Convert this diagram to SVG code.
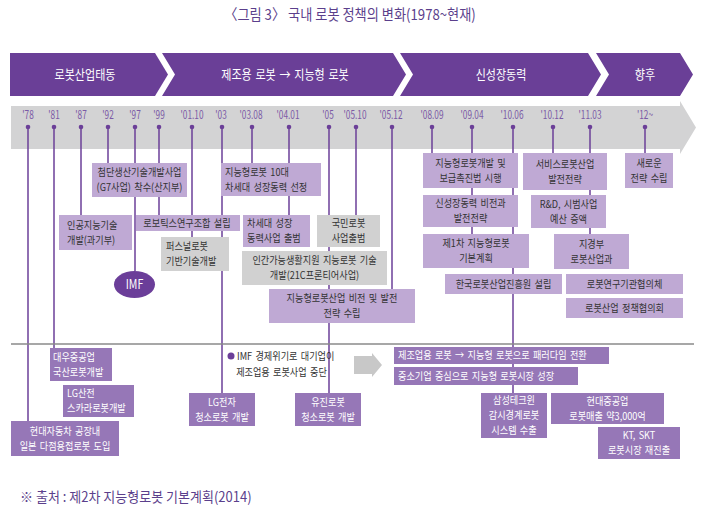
<svg xmlns="http://www.w3.org/2000/svg" width="703" height="514" viewBox="0 0 703 514">
<style>
.bn{fill:#6a3f97}
.lp{fill:#bfa9d4}
.gr{fill:#d1d1d1}
.dp{fill:#9677b7}
.ln{stroke:#6b3f98;stroke-width:1.5;fill:none}
.t{font-family:"Noto Sans CJK KR","Noto Sans",sans-serif;font-size:10.5px;word-spacing:1.5px;fill:#333;text-anchor:middle}
.tw{fill:#fff}
.tl{text-anchor:start}
.yr{fill:#7b5aa6;font-size:11.5px;word-spacing:0}
.dot{fill:#6b3f98}
</style>
<rect width="703" height="514" fill="#fff"/>
<text class="t" transform="translate(350 0) scale(.88 1)" y="20" style="font-size:15px;word-spacing:0;fill:#5b3f8c">〈그림 3〉 국내 로봇 정책의 변화(1978~현재)</text>

<g id="banner">
<polygon class="bn" points="10,53 155,53 168,74.5 155,96 10,96"/>
<polygon class="bn" points="162,53 393,53 406,74.5 393,96 162,96 175,74.5"/>
<polygon class="bn" points="400,53 588,53 601,74.5 588,96 400,96 413,74.5"/>
<polygon class="bn" points="596,53 680,53 693,74.5 680,96 596,96 609,74.5"/>
<text class="t tw" transform="translate(85 0) scale(.85 1)" y="79.5" style="font-size:13px">로봇산업태동</text>
<text class="t tw" transform="translate(285 0) scale(.85 1)" y="79.5" style="font-size:13px">제조용 로봇 → 지능형 로봇</text>
<text class="t tw" transform="translate(501 0) scale(.85 1)" y="79.5" style="font-size:13px">신성장동력</text>
<text class="t tw" transform="translate(645 0) scale(.85 1)" y="79.5" style="font-size:13px">향후</text>
</g>

<g id="timeline">
<polygon points="11,106 680,106 680,101 696,127.5 680,154 680,149 11,149" fill="#d3d3d4"/>
<g class="t yr">
<text transform="translate(28 0) scale(.72 1)" y="119">'78</text>
<text transform="translate(54 0) scale(.72 1)" y="119">'81</text>
<text transform="translate(81 0) scale(.72 1)" y="119">'87</text>
<text transform="translate(108 0) scale(.72 1)" y="119">'92</text>
<text transform="translate(135 0) scale(.72 1)" y="119">'97</text>
<text transform="translate(159 0) scale(.72 1)" y="119">'99</text>
<text transform="translate(192 0) scale(.72 1)" y="119">'01.10</text>
<text transform="translate(221 0) scale(.72 1)" y="119">'03</text>
<text transform="translate(251 0) scale(.72 1)" y="119">'03.08</text>
<text transform="translate(288 0) scale(.72 1)" y="119">'04.01</text>
<text transform="translate(328 0) scale(.72 1)" y="119">'05</text>
<text transform="translate(355 0) scale(.72 1)" y="119">'05.10</text>
<text transform="translate(391 0) scale(.72 1)" y="119">'05.12</text>
<text transform="translate(432 0) scale(.72 1)" y="119">'08.09</text>
<text transform="translate(472 0) scale(.72 1)" y="119">'09.04</text>
<text transform="translate(512 0) scale(.72 1)" y="119">'10.06</text>
<text transform="translate(552 0) scale(.72 1)" y="119">'10.12</text>
<text transform="translate(590 0) scale(.72 1)" y="119">'11.03</text>
<text transform="translate(645 0) scale(.72 1)" y="119">'12~</text>
</g>
</g>

<g id="connectors" class="ln">
<line x1="28" y1="127" x2="28" y2="421"/>
<line x1="54" y1="127" x2="54" y2="348"/>
<line x1="81" y1="127" x2="81" y2="215"/>
<line x1="108" y1="127" x2="108" y2="163"/>
<line x1="135" y1="127" x2="135" y2="271"/>
<line x1="159" y1="127" x2="159" y2="215"/>
<line x1="192" y1="127" x2="192" y2="237"/>
<line x1="222" y1="127" x2="222" y2="393"/>
<line x1="252" y1="127" x2="252" y2="163"/>
<line x1="289" y1="127" x2="289" y2="215"/>
<line x1="329" y1="127" x2="329" y2="393"/>
<line x1="356" y1="127" x2="356" y2="215"/>
<line x1="392" y1="127" x2="392" y2="289"/>
<line x1="432" y1="127" x2="432" y2="153"/>
<line x1="472" y1="127" x2="472" y2="234"/>
<line x1="513" y1="127" x2="513" y2="393"/>
<line x1="553" y1="127" x2="553" y2="153"/>
<line x1="590" y1="127" x2="590" y2="234"/>
<line x1="645" y1="127" x2="645" y2="153"/>
</g>
<g id="dots" class="dot">
<circle cx="28" cy="127" r="2.3"/><circle cx="54" cy="127" r="2.3"/><circle cx="81" cy="127" r="2.3"/><circle cx="108" cy="127" r="2.3"/><circle cx="135" cy="127" r="2.3"/><circle cx="159" cy="127" r="2.3"/><circle cx="192" cy="127" r="2.3"/><circle cx="222" cy="127" r="2.3"/><circle cx="252" cy="127" r="2.3"/><circle cx="289" cy="127" r="2.3"/><circle cx="329" cy="127" r="2.3"/><circle cx="356" cy="127" r="2.3"/><circle cx="392" cy="127" r="2.3"/><circle cx="432" cy="127" r="2.3"/><circle cx="472" cy="127" r="2.3"/><circle cx="513" cy="127" r="2.3"/><circle cx="553" cy="127" r="2.3"/><circle cx="590" cy="127" r="2.3"/><circle cx="645" cy="127" r="2.3"/>
</g>

<line id="divider" x1="11" y1="344" x2="694" y2="344" stroke="#8a8a8a" stroke-width="1.5"/>

<g id="n-g7"><rect class="lp" x="92" y="163" width="95" height="34"/>
<text class="t" transform="translate(139.5 0) scale(.87 1)"><tspan x="0" y="176.2">첨단생산기술개발사업</tspan><tspan x="0" y="191.4">(G7사업) 착수(산지부)</tspan></text></g>
<g id="n-10"><rect class="lp" x="221" y="163" width="100" height="33"/>
<text class="t tl" transform="translate(225 0) scale(.87 1)"><tspan x="0" y="175.7">지능형로봇 10대</tspan><tspan x="0" y="190.9">차세대 성장동력 선정</tspan></text></g>
<g id="n-ai"><rect class="lp" x="59" y="215" width="73" height="35"/>
<text class="t tl" transform="translate(67 0) scale(.87 1)"><tspan x="0" y="228.7">인공지능기술</tspan><tspan x="0" y="243.9">개발(과기부)</tspan></text></g>
<g id="n-robotics"><rect class="lp" x="136" y="215" width="104" height="16"/>
<text class="t" transform="translate(187 0) scale(.87 1)" y="226.8">로보틱스연구조합 설립</text></g>
<g id="n-personal"><rect class="gr" x="161" y="237" width="68" height="34"/>
<text class="t tl" transform="translate(166 0) scale(.87 1)"><tspan x="0" y="250.2">퍼스널로봇</tspan><tspan x="0" y="265.4">기반기술개발</tspan></text></g>
<g id="n-next"><rect class="lp" x="243" y="215" width="67" height="32"/>
<text class="t tl" transform="translate(247 0) scale(.87 1)"><tspan x="0" y="227.2">차세대 성장</tspan><tspan x="0" y="242.4">동력사업 출범</tspan></text></g>
<g id="n-national"><rect class="gr" x="317" y="215" width="63" height="32"/>
<text class="t" transform="translate(348.5 0) scale(.87 1)"><tspan x="0" y="227.2">국민로봇</tspan><tspan x="0" y="242.4">사업출범</tspan></text></g>
<g id="n-frontier"><rect class="gr" x="242" y="251" width="145" height="34"/>
<text class="t" transform="translate(314.5 0) scale(.87 1)"><tspan x="0" y="264.2">인간가능생활지원 지능로봇 기술</tspan><tspan x="0" y="279.4">개발(21C프론티어사업)</tspan></text></g>
<g id="n-vision"><rect class="lp" x="269" y="289" width="146" height="34"/>
<text class="t" transform="translate(342 0) scale(.87 1)"><tspan x="0" y="302.2">지능형로봇산업 비전 및 발전</tspan><tspan x="0" y="317.4">전략 수립</tspan></text></g>
<g id="n-imf"><ellipse cx="134.5" cy="284.5" rx="20.5" ry="13.5" fill="#6b3e99"/>
<text class="t tw" transform="translate(134.5 0) scale(.85 1)" y="289" style="font-size:12.5px">IMF</text></g>

<g id="n-law"><rect class="lp" x="423" y="153" width="95" height="35"/>
<text class="t" transform="translate(470.5 0) scale(.87 1)"><tspan x="0" y="166.7">지능형로봇개발 및</tspan><tspan x="0" y="181.9">보급촉진법 시행</tspan></text></g>
<g id="n-growth"><rect class="lp" x="423" y="195" width="95" height="32"/>
<text class="t" transform="translate(470.5 0) scale(.87 1)"><tspan x="0" y="207.2">신성장동력 비전과</tspan><tspan x="0" y="222.4">발전전략</tspan></text></g>
<g id="n-plan1"><rect class="lp" x="423" y="234" width="106" height="34"/>
<text class="t" transform="translate(476 0) scale(.87 1)"><tspan x="0" y="247.2">제1차 지능형로봇</tspan><tspan x="0" y="262.4">기본계획</tspan></text></g>
<g id="n-kiria"><rect class="lp" x="445" y="274" width="117" height="20"/>
<text class="t" transform="translate(503.5 0) scale(.87 1)" y="287.8">한국로봇산업진흥원 설립</text></g>
<g id="n-service"><rect class="lp" x="523" y="153" width="84" height="37"/>
<text class="t" transform="translate(565 0) scale(.87 1)"><tspan x="0" y="167.7">서비스로봇산업</tspan><tspan x="0" y="182.9">발전전략</tspan></text></g>
<g id="n-new"><rect class="lp" x="625" y="153" width="48" height="35"/>
<text class="t" transform="translate(649 0) scale(.87 1)"><tspan x="0" y="166.7">새로운</tspan><tspan x="0" y="181.9">전략 수립</tspan></text></g>
<g id="n-rnd"><rect class="lp" x="531" y="195" width="75" height="33"/>
<text class="t" transform="translate(568.5 0) scale(.87 1)"><tspan x="0" y="207.7">R&amp;D, 시범사업</tspan><tspan x="0" y="222.9">예산 증액</tspan></text></g>
<g id="n-mke"><rect class="lp" x="554" y="234" width="75" height="35"/>
<text class="t" transform="translate(591.5 0) scale(.87 1)"><tspan x="0" y="247.7">지경부</tspan><tspan x="0" y="262.9">로봇산업과</tspan></text></g>
<g id="n-council1"><rect class="lp" x="566" y="274" width="117" height="20"/>
<text class="t" transform="translate(624.5 0) scale(.87 1)" y="287.8">로봇연구기관협의체</text></g>
<g id="n-council2"><rect class="lp" x="566" y="298" width="117" height="20"/>
<text class="t" transform="translate(624.5 0) scale(.87 1)" y="311.8">로봇산업 정책협의회</text></g>

<g id="n-daewoo"><rect class="dp" x="50" y="348" width="62" height="33"/>
<text class="t tw tl" transform="translate(53 0) scale(.87 1)"><tspan x="0" y="360.7">대우중공업</tspan><tspan x="0" y="375.9">국산로봇개발</tspan></text></g>
<g id="n-lgis"><rect class="dp" x="63" y="385" width="71" height="32"/>
<text class="t tw tl" transform="translate(67 0) scale(.87 1)"><tspan x="0" y="397.2">LG산전</tspan><tspan x="0" y="412.4">스카라로봇개발</tspan></text></g>
<g id="n-hyundai"><rect class="dp" x="11" y="421" width="108" height="35"/>
<text class="t tw" transform="translate(65 0) scale(.87 1)"><tspan x="0" y="434.7">현대자동차 공장내</tspan><tspan x="0" y="449.9">일본 다점용접로봇 도입</tspan></text></g>
<g id="n-lge"><rect class="dp" x="189" y="393" width="66" height="33"/>
<text class="t tw" transform="translate(222 0) scale(.87 1)"><tspan x="0" y="405.7">LG전자</tspan><tspan x="0" y="420.9">청소로봇 개발</tspan></text></g>
<g id="n-yujin"><rect class="dp" x="295" y="393" width="66" height="33"/>
<text class="t tw" transform="translate(328 0) scale(.87 1)"><tspan x="0" y="405.7">유진로봇</tspan><tspan x="0" y="420.9">청소로봇 개발</tspan></text></g>
<g id="n-imfnote"><circle cx="231" cy="356" r="3.5" fill="#6b3f98"/>
<text class="t tl" transform="translate(237 0) scale(.87 1)"><tspan x="0" y="359.8">IMF 경제위기로 대기업이</tspan><tspan x="-1" y="375.8">제조업용 로봇사업 중단</tspan></text></g>
<polygon id="n-arrow" points="354,356 372,356 372,353 382,365 372,377 372,374 354,374" fill="#c8c8c8"/>
<g id="n-paradigm"><rect class="dp" x="394" y="347" width="215" height="17"/>
<text class="t tw tl" transform="translate(398 0) scale(.87 1)" y="359.3">제조업용 로봇 → 지능형 로봇으로 패러다임 전환</text></g>
<g id="n-sme"><rect class="dp" x="394" y="367" width="184" height="18"/>
<text class="t tw tl" transform="translate(398 0) scale(.87 1)" y="379.8">중소기업 중심으로 지능형 로봇시장 성장</text></g>
<g id="n-samsung"><rect class="dp" x="481" y="393" width="66" height="45"/>
<text class="t tw" transform="translate(514 0) scale(.87 1)"><tspan x="0" y="404.1">삼성테크윈</tspan><tspan x="0" y="419.3">감시경계로봇</tspan><tspan x="0" y="434.5">시스템 수출</tspan></text></g>
<g id="n-hhi"><rect class="dp" x="551" y="393" width="113" height="31"/>
<text class="t tw" transform="translate(607.5 0) scale(.87 1)"><tspan x="0" y="404.7">현대중공업</tspan><tspan x="0" y="419.9">로봇매출 약3,000억</tspan></text></g>
<g id="n-kt"><rect class="dp" x="598" y="427" width="82" height="32"/>
<text class="t tw" transform="translate(639 0) scale(.87 1)"><tspan x="0" y="439.2">KT, SKT</tspan><tspan x="0" y="454.4">로봇시장 재진출</tspan></text></g>

<text class="t tl" transform="translate(20 0) scale(.93 1)" y="502" style="font-size:14px;word-spacing:0;fill:#5b3f8c">※ 출처 : 제2차 지능형로봇 기본계획(2014)</text>
</svg>
